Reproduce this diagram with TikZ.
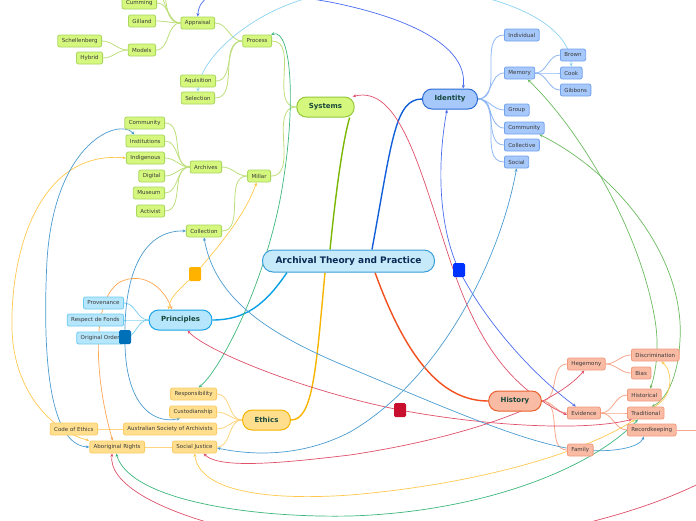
\documentclass[tikz,border=0pt]{standalone}
\usepackage{fontspec}
\setmainfont{DejaVu Sans}
\usetikzlibrary{arrows.meta}
\pgfdeclarelayer{bg}
\pgfsetlayers{bg,main}
\definecolor{gfill}{HTML}{D5F77E}
\definecolor{gbord}{HTML}{A9D65C}
\definecolor{sysb}{HTML}{94C83A}
\definecolor{gline}{HTML}{BEDF7C}
\definecolor{bfill}{HTML}{A6C8FA}
\definecolor{bbord}{HTML}{72A2EE}
\definecolor{idb}{HTML}{2C6CD6}
\definecolor{bline}{HTML}{8FB8F4}
\definecolor{pfill}{HTML}{B5E6FB}
\definecolor{pbord}{HTML}{6CCBF2}
\definecolor{prb}{HTML}{1AA3E6}
\definecolor{pline}{HTML}{80D2F4}
\definecolor{cfill}{HTML}{C6EAFA}
\definecolor{cbord}{HTML}{3A9ED8}
\definecolor{yfill}{HTML}{FFDF8E}
\definecolor{ybord}{HTML}{F9CC66}
\definecolor{ethb}{HTML}{F5B400}
\definecolor{yline}{HTML}{FFD47E}
\definecolor{sfill}{HTML}{F9BBA4}
\definecolor{sbord}{HTML}{F29A7E}
\definecolor{hisb}{HTML}{E8622E}
\definecolor{sline}{HTML}{F7A88C}
\definecolor{mSys}{HTML}{7AB800}
\definecolor{mId}{HTML}{1260D9}
\definecolor{mPr}{HTML}{0AA0E6}
\definecolor{mEt}{HTML}{F7B500}
\definecolor{mHi}{HTML}{F24F1C}
\definecolor{lBlue}{HTML}{4A6CF0}
\definecolor{lLight}{HTML}{8CD3F2}
\definecolor{lGreen}{HTML}{3DB87A}
\definecolor{lYel}{HTML}{FFC94F}
\definecolor{lSteel}{HTML}{4A9CD0}
\definecolor{lOra}{HTML}{FFA755}
\definecolor{lRed}{HTML}{E0506A}
\definecolor{lGreen2}{HTML}{6CBB5F}
\definecolor{txt}{HTML}{3A3A3A}
\definecolor{mtxt}{HTML}{16463C}
\definecolor{ctxt}{HTML}{0B2A55}
\definecolor{sqY}{HTML}{FFB300}
\definecolor{sqB}{HTML}{0033FF}
\definecolor{sqR}{HTML}{C8102E}
\definecolor{sqD}{HTML}{0070B8}
\begin{document}
\begin{tikzpicture}[x=1pt,y=-1pt,
  base/.style={draw, rounded corners=2pt, inner xsep=4pt, inner ysep=0pt, minimum height=12pt,
    font=\fontsize{5.5}{6}\selectfont, text=txt, line width=0.8pt},
  gnode/.style={base, fill=gfill, draw=gbord},
  bnode/.style={base, fill=bfill, draw=bbord},
  pnode/.style={base, fill=pfill, draw=pbord},
  ynode/.style={base, fill=yfill, draw=ybord},
  snode/.style={base, fill=sfill, draw=sbord},
  mainn/.style={draw, rounded corners=9.5pt, inner xsep=12pt, inner ysep=0pt, minimum height=20pt,
    font=\fontsize{7}{8}\selectfont\bfseries, text=mtxt, line width=1pt},
  sqn/.style={rounded corners=1.5pt, minimum width=12pt, minimum height=14pt, inner sep=0pt},
  br/.style={line width=0.8pt},
  mb/.style={line width=1.4pt},
  lk/.style={line width=0.7pt, arrows={Stealth[length=3.5pt,width=3pt]-Stealth[length=3.5pt,width=3pt]}},
  lks/.style={line width=0.7pt, arrows={Stealth[length=3.5pt,width=3pt]-}},
  lke/.style={line width=0.7pt, arrows={-Stealth[length=3.5pt,width=3pt]}}
]
\useasboundingbox (0,0) rectangle (696,520);

% central and main nodes
\node[mainn, fill=cfill, draw=cbord, rounded corners=10.5pt, minimum height=22pt, inner xsep=13pt,
  font=\fontsize{9}{10}\selectfont\bfseries, text=ctxt] (c) at (348.5,261) {Archival Theory and Practice};
\node[mainn, fill=gfill, draw=sysb] (sys) at (325.5,107) {Systems};
\node[mainn, fill=bfill, draw=idb] (iden) at (450,99) {Identity};
\node[mainn, fill=pfill, draw=prb] (pri) at (180.5,320) {Principles};
\node[mainn, fill=yfill, draw=ethb] (eth) at (266.5,420) {Ethics};
\node[mainn, fill=sfill, draw=hisb] (his) at (515,401) {History};

% Systems subtree
\node[gnode, anchor=east] (proc) at (272,41) {Process};
\node[gnode, anchor=east] (app) at (215,23) {Appraisal};
\node[gnode, anchor=east] (cum) at (157,3) {Cumming};
\node[gnode, anchor=east] (gil) at (156,21) {Gilland};
\node[gnode, anchor=east] (mod) at (156,50) {Models};
\node[gnode, anchor=east] (sch) at (102,41) {Schellenberg};
\node[gnode, anchor=east] (hyb) at (103,58) {Hybrid};
\node[gnode, anchor=east] (aqu) at (216,81) {Aquisition};
\node[gnode, anchor=east] (sel) at (215,98) {Selection};
\node[gnode, anchor=east] (mil) at (271,176) {Millar};
\node[gnode, anchor=east] (arc) at (222,167) {Archives};
\node[gnode, anchor=east] (gcom) at (165,123) {Community};
\node[gnode, anchor=east] (ins) at (165,141) {Institutions};
\node[gnode, anchor=east] (ind) at (165,158) {Indigenous};
\node[gnode, anchor=east] (dig) at (165,176) {Digital};
\node[gnode, anchor=east] (mus) at (165,193) {Museum};
\node[gnode, anchor=east] (act) at (165,211) {Activist};
\node[gnode, anchor=east] (col) at (222,231) {Collection};
\coordinate (offa) at (150,-12);
\coordinate (offb) at (150,-30);

% Identity subtree
\node[bnode, anchor=west] (indv) at (504,35) {Individual};
\node[bnode, anchor=west] (mem) at (504,73) {Memory};
\node[bnode, anchor=west] (bro) at (560,55) {Brown};
\node[bnode, anchor=west] (cook) at (560,73) {Cook};
\node[bnode, anchor=west] (gib) at (560,90) {Gibbons};
\node[bnode, anchor=west] (grp) at (504,110) {Group};
\node[bnode, anchor=west] (bcom) at (504,128) {Community};
\node[bnode, anchor=west] (colv) at (504,145) {Collective};
\node[bnode, anchor=west] (soc) at (504,162) {Social};

% Principles subtree
\node[pnode, anchor=east] (prov) at (124,303) {Provenance};
\node[pnode, anchor=east] (rdf) at (124,320) {Respect de Fonds};
\node[pnode, anchor=east] (oo) at (124,338) {Original Order};

% Ethics subtree
\node[ynode, anchor=east] (resp) at (217,394) {Responsibility};
\node[ynode, anchor=east] (cust) at (217,412) {Custodianship};
\node[ynode, anchor=east] (asa) at (217,429) {Australian Society of Archivists};
\node[ynode, anchor=east] (sj) at (217,447) {Social Justice};
\node[ynode, anchor=east] (coe) at (98,429) {Code of Ethics};
\node[ynode, anchor=east] (abr) at (145,447) {Aboriginal Rights};

% History subtree
\node[snode, anchor=west] (heg) at (567,364) {Hegemony};
\node[snode, anchor=west] (evi) at (567,413) {Evidence};
\node[snode, anchor=west] (fam) at (567,450) {Family};
\node[snode, anchor=west] (disc) at (631,355) {Discrimination};
\node[snode, anchor=west] (bias) at (631,373) {Bias};
\node[snode, anchor=west] (hist) at (627,395) {Historical};
\node[snode, anchor=west] (trad) at (627,413) {Traditional};
\node[snode, anchor=west] (rec) at (627,430) {Recordkeeping};
\coordinate (offrk) at (720,430);
\coordinate (offr) at (710,478);

% marker squares
\node[sqn, fill=sqY] (sq1) at (195,274) {};
\node[sqn, fill=sqB] (sq2) at (459,270) {};
\node[sqn, fill=sqR] (sq3) at (400,410) {};
\node[sqn, fill=sqD] (sq4) at (125,337) {};

\begin{pgfonlayer}{bg}
\fill[white] (0,0) rectangle (696,520);
% main branches
\draw[mb, draw=mSys] ([xshift=-18.5pt]c.north) .. controls (336,190) and (343,140) .. ([xshift=-5pt]sys.south east);
\draw[mb, draw=mId] ([xshift=23.5pt]c.north) .. controls (392,140) and (395,99) .. (iden.west);
\draw[mb, draw=mPr] ([xshift=25pt]c.south west) .. controls (265,305) and (245,320) .. (pri.east);
\draw[mb, draw=mEt] ([xshift=-23.5pt]c.south) .. controls (316,370) and (313,420) .. (eth.east);
\draw[mb, draw=mHi] ([xshift=26.5pt]c.south) .. controls (405,355) and (440,401) .. (his.west);

% child branches
\foreach \a/\b in {sys/proc, sys/mil, proc/app, proc/aqu, proc/sel, app/cum, app/gil, app/mod, mod/sch, mod/hyb,
  mil/arc, mil/col, arc/gcom, arc/ins, arc/ind, arc/dig, arc/mus, arc/act}
  \draw[br, draw=gline] (\a.west) to[out=180,in=0] (\b.east);
\draw[br, draw=gline] (app.west) to[out=180,in=0] (offa);
\draw[br, draw=gline] (app.west) to[out=180,in=0] (offb);
\foreach \a/\b in {iden/indv, iden/mem, iden/grp, iden/bcom, iden/colv, iden/soc, mem/bro, mem/cook, mem/gib}
  \draw[br, draw=bline] (\a.east) to[out=0,in=180] (\b.west);
\foreach \b in {prov, rdf, oo}
  \draw[br, draw=pline] (pri.west) to[out=180,in=0] (\b.east);
\foreach \b in {resp, cust, asa, sj}
  \draw[br, draw=yline] (eth.west) to[out=180,in=0] (\b.east);
\draw[br, draw=yline] (asa.west) -- (coe.east);
\draw[br, draw=yline] (sj.west) -- (abr.east);
\foreach \a/\b in {his/heg, his/evi, his/fam, heg/disc, heg/bias, evi/hist, evi/trad, evi/rec}
  \draw[br, draw=sline] (\a.east) to[out=0,in=180] (\b.west);
\draw[br, draw=sline] (rec.east) -- (offrk);

% cross links
\draw[lk, draw=lBlue] (app.north) .. controls (200,-20) and (260,-10) .. (330,2)
  .. controls (420,20) and (468,50) .. ([xshift=13pt]iden.north);
\draw[lk, draw=lLight] (sel.north) .. controls (199,60) and (250,10) .. (320,-5)
  .. controls (430,-30) and (570,5) .. (cook.north);
\draw[lk, draw=lGreen] ([xshift=-1pt]proc.north east) .. controls (292,28) and (297,110) .. (280,200)
  .. controls (262,290) and (220,370) .. ([xshift=5pt]resp.north);
\draw[lk, draw=lYel] (ind.west) .. controls (40,150) and (10,250) .. (12,330)
  .. controls (14,390) and (50,430) .. (abr.north west);
\draw[lk, draw=lSteel] ([xshift=-11pt]ins.north) .. controls (120,118) and (55,140) .. (47,260)
  .. controls (42,360) and (50,445) .. (abr.west);
\draw[lk, draw=lSteel] (col.west) .. controls (140,230) and (124,280) .. (sq4.center)
  .. controls (124,400) and (150,425) .. ([xshift=-13pt]cust.south);
\draw[lk, draw=lOra] ([xshift=-4.5pt]abr.north) .. controls (95,380) and (90,300) .. (120,282)
  .. controls (145,270) and (165,290) .. ([xshift=-8.5pt]pri.north);
\draw[lk, draw=lYel] ([xshift=-12pt]pri.north) .. controls (170,295) and (185,285) .. (sq1.center)
  .. controls (220,245) and (245,215) .. ([xshift=-2.5pt]mil.south);
\draw[lk, draw=lBlue] ([xshift=-3pt]iden.south) .. controls (436,170) and (440,230) .. (sq2.center)
  .. controls (490,330) and (540,380) .. ([xshift=-8pt]evi.north);
\draw[lk, draw=lRed] ([xshift=7pt]pri.south) .. controls (205,350) and (300,390) .. (sq3.center)
  .. controls (480,425) and (580,432) .. ([xshift=5pt]trad.south west);
\draw[lk, draw=lRed] ([xshift=-2pt]sys.north east) .. controls (400,85) and (420,170) .. (450,260)
  .. controls (475,335) and (505,385) .. ([yshift=-2pt]evi.west);
\draw[lk, draw=lSteel] (soc.south) .. controls (500,260) and (440,380) .. (350,432)
  .. controls (300,458) and (250,455) .. ([yshift=-1pt]sj.east);
\draw[lk, draw=lSteel] (col.south) .. controls (215,300) and (270,335) .. (350,368)
  .. controls (450,410) and (530,445) .. (fam.center)
  .. controls (615,453) and (640,447) .. ([xshift=-8pt]rec.south);
\draw[lk, draw=lRed] ([xshift=9pt]sj.south) .. controls (220,470) and (290,462) .. (350,455)
  .. controls (450,440) and (550,410) .. ([xshift=-2pt]heg.south);
\draw[lk, draw=lYel] (sj.south) .. controls (200,495) and (280,500) .. (350,495)
  .. controls (470,485) and (580,455) .. ([xshift=8pt]trad.south west);
\draw[lk, draw=lGreen] ([xshift=-1pt]abr.south) .. controls (130,500) and (250,518) .. (350,516)
  .. controls (480,512) and (590,470) .. ([xshift=11pt]trad.south west);
\draw[lks, draw=lRed] ([xshift=-5pt]abr.south) .. controls (105,510) and (300,560) .. (450,545)
  .. controls (560,535) and (650,510) .. (offr);
\draw[lk, draw=lGreen2] ([xshift=8pt]mem.south) .. controls (580,130) and (640,230) .. (655,320)
  .. controls (660,350) and (655,375) .. ([xshift=6pt]hist.north);
\draw[lk, draw=lGreen2] ([xshift=15pt]bcom.south) .. controls (620,175) and (685,260) .. (680,340)
  .. controls (678,380) and (665,400) .. ([xshift=6pt]trad.north);
\draw[lke, draw=lYel] ([xshift=9pt]trad.north) .. controls (675,395) and (672,370) .. ([xshift=6pt]disc.south);
\end{pgfonlayer}
\end{tikzpicture}
\end{document}
